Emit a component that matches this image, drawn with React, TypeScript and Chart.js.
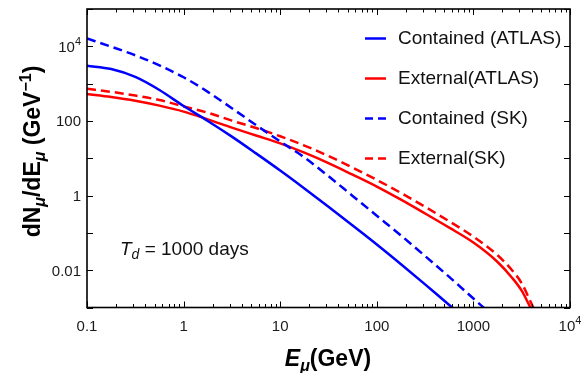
import React, { useEffect, useRef } from "react";
import { Chart, registerables } from "chart.js";

Chart.register(...registerables);

// ---------- data ----------
const containedAtlasE = [0.1, 0.178, 0.316, 0.562, 1, 1.78, 3.16, 5.62, 10, 17.8, 31.6, 56.2, 100, 178, 316, 562, 708];
const containedAtlasY = [3020, 2455, 1514, 676, 251, 100, 38.0, 13.5, 4.68, 1.55, 0.501, 0.158, 0.049, 0.0145, 0.00417, 0.00117, 0.00071];

const externalAtlasE = [0.1, 0.178, 0.316, 0.562, 1, 1.78, 3.16, 5.62, 10, 17.8, 31.6, 56.2, 100, 178, 316, 562, 1000, 1780, 2510, 3160, 3890, 4170];
const externalAtlasY = [525, 437, 347, 257, 178, 110, 66.1, 40.7, 25.1, 14.1, 7.41, 3.63, 1.74, 0.776, 0.331, 0.138, 0.055, 0.0166, 0.0063, 0.00282, 0.001, 0.00071];

const containedSkE = [0.1, 0.178, 0.316, 0.562, 1, 1.78, 3.16, 5.62, 10, 17.8, 31.6, 56.2, 100, 178, 316, 562, 1000, 1260, 1410];
const containedSkY = [16200, 9770, 5750, 3090, 1480, 603, 219, 77.6, 28.2, 10.5, 3.31, 0.977, 0.288, 0.0851, 0.024, 0.0066, 0.00174, 0.00102, 0.00076];

const externalSkE = [0.1, 0.178, 0.316, 0.562, 1, 1.78, 3.16, 5.62, 10, 17.8, 31.6, 56.2, 100, 178, 316, 562, 1000, 1780, 2510, 3160, 4170, 4470];
const externalSkY = [724, 603, 479, 363, 245, 166, 102, 64.6, 38.9, 21.9, 11.5, 5.62, 2.63, 1.17, 0.501, 0.204, 0.0794, 0.0251, 0.01, 0.00447, 0.001, 0.00071];

const seriesLabels = ["Contained (ATLAS)", "External(ATLAS)", "Contained (SK)", "External(SK)"];

const xTickValues = [0.1, 1, 10, 100, 1000, 10000];
const xTickLabels = ["0.1", "1", "10", "100", "1000", "10^4"];
const yTickValues = [0.01, 1, 100, 10000];
const yTickLabels = ["0.01", "1", "100", "10^4"];

const X_MIN = 0.1, X_MAX = 10000, Y_MIN = 0.001, Y_MAX = 100000;

const BLUE = "#0000ff";
const RED = "#ff0000";
const FONT = "'Liberation Sans', Arial, sans-serif";

function pts(xs: number[], ys: number[]) {
  return xs.map((x, i) => ({ x, y: ys[i] }));
}

function drawLabel(ctx: CanvasRenderingContext2D, label: string, x: number, y: number, align: "center" | "right", size: number) {
  const parts = label.split("^");
  ctx.font = `${size}px ${FONT}`;
  const wBase = ctx.measureText(parts[0]).width;
  let wSup = 0;
  const supSize = Math.round(size * 0.72);
  if (parts[1]) {
    ctx.font = `${supSize}px ${FONT}`;
    wSup = ctx.measureText(parts[1]).width;
  }
  const total = wBase + wSup;
  const x0 = align === "center" ? x - total / 2 : x - total;
  ctx.textAlign = "left";
  ctx.textBaseline = "alphabetic";
  ctx.font = `${size}px ${FONT}`;
  ctx.fillText(parts[0], x0, y);
  if (parts[1]) {
    ctx.font = `${supSize}px ${FONT}`;
    ctx.fillText(parts[1], x0 + wBase, y - size * 0.45);
  }
}

type Seg = { t: string; font: string; dy: number };

function drawSegs(ctx: CanvasRenderingContext2D, segs: Seg[], cx: number, y: number) {
  let total = 0;
  for (const s of segs) {
    ctx.font = s.font;
    total += ctx.measureText(s.t).width;
  }
  let x = cx - total / 2;
  ctx.textAlign = "left";
  ctx.textBaseline = "alphabetic";
  for (const s of segs) {
    ctx.font = s.font;
    ctx.fillText(s.t, x, y + s.dy);
    x += ctx.measureText(s.t).width;
  }
}

const overlay = {
  id: "overlay",
  afterDraw(chart: any) {
    const ctx: CanvasRenderingContext2D = chart.ctx;
    const { left, right, top, bottom } = chart.chartArea;
    const xs = chart.scales.x;
    const ys = chart.scales.y;
    ctx.save();
    ctx.fillStyle = "#000";
    ctx.strokeStyle = "#000";

    // ticks (inside, mirrored)
    ctx.lineWidth = 1;
    ctx.beginPath();
    for (let d = -1; d <= 4; d++) {
      for (let m = 1; m <= 9; m++) {
        const v = m * Math.pow(10, d);
        if (v > X_MAX * 1.0001) break;
        const px = Math.round(xs.getPixelForValue(v)) + 0.5;
        const len = m === 1 ? 6 : 3.5;
        ctx.moveTo(px, bottom);
        ctx.lineTo(px, bottom - len);
        ctx.moveTo(px, top);
        ctx.lineTo(px, top + len);
      }
    }
    for (let d = -3; d <= 5; d++) {
      const v = Math.pow(10, d);
      const py = Math.round(ys.getPixelForValue(v)) + 0.5;
      ctx.moveTo(left, py);
      ctx.lineTo(left + 6, py);
      ctx.moveTo(right, py);
      ctx.lineTo(right - 6, py);
    }
    ctx.stroke();

    // frame
    ctx.lineWidth = 1.6;
    ctx.strokeRect(left, top, right - left, bottom - top);

    // tick labels
    ctx.fillStyle = "#1a1a1a";
    xTickValues.forEach((v, i) => {
      const px = xs.getPixelForValue(v);
      drawLabel(ctx, xTickLabels[i], px, 331, "center", 15);
    });
    yTickValues.forEach((v, i) => {
      const py = ys.getPixelForValue(v);
      drawLabel(ctx, yTickLabels[i], 81, py + 5.5, "right", 15);
    });

    // axis titles
    ctx.fillStyle = "#000";
    drawSegs(
      ctx,
      [
        { t: "E", font: `italic bold 23px ${FONT}`, dy: 0 },
        { t: "μ", font: `italic bold 16px ${FONT}`, dy: 5 },
        { t: "(GeV)", font: `bold 23px ${FONT}`, dy: 0 },
      ],
      328,
      366
    );
    ctx.save();
    ctx.translate(40, 151.5);
    ctx.rotate(-Math.PI / 2);
    drawSegs(
      ctx,
      [
        { t: "dN", font: `bold 23px ${FONT}`, dy: 0 },
        { t: "μ", font: `italic bold 16px ${FONT}`, dy: 5 },
        { t: "/dE", font: `bold 23px ${FONT}`, dy: 0 },
        { t: "μ", font: `italic bold 16px ${FONT}`, dy: 5 },
        { t: " (GeV", font: `bold 23px ${FONT}`, dy: 0 },
        { t: "−1", font: `bold 16px ${FONT}`, dy: -9 },
        { t: ")", font: `bold 23px ${FONT}`, dy: 0 },
      ],
      0,
      0
    );
    ctx.restore();

    // annotation
    ctx.fillStyle = "#111";
    const ax = 120;
    const ay = 255;
    ctx.textAlign = "left";
    ctx.font = `italic 19px ${FONT}`;
    ctx.fillText("T", ax, ay);
    let w = ctx.measureText("T").width;
    ctx.font = `italic 14px ${FONT}`;
    ctx.fillText("d", ax + w, ay + 4);
    w += ctx.measureText("d").width;
    ctx.font = `19px ${FONT}`;
    ctx.fillText(" = 1000 days", ax + w, ay);

    // legend
    const colors = [BLUE, RED, BLUE, RED];
    const dashed = [false, false, true, true];
    seriesLabels.forEach((lab, i) => {
      const ly = 38.5 + i * 40;
      ctx.beginPath();
      ctx.strokeStyle = colors[i];
      ctx.lineWidth = 2.5;
      ctx.setLineDash(dashed[i] ? [8, 5] : []);
      ctx.moveTo(365, ly);
      ctx.lineTo(386, ly);
      ctx.stroke();
      ctx.setLineDash([]);
      ctx.fillStyle = "#111";
      ctx.font = `19px ${FONT}`;
      ctx.textBaseline = "middle";
      ctx.fillText(lab, 398, ly);
      ctx.textBaseline = "alphabetic";
    });

    ctx.restore();
  },
};

export default function App() {
  const ref = useRef<HTMLCanvasElement | null>(null);
  useEffect(() => {
    if (!ref.current) return;
    const common = {
      pointRadius: 0,
      borderWidth: 2.5,
      fill: false,
      cubicInterpolationMode: "monotone" as const,
      clip: 0,
    };
    const chart = new Chart(ref.current, {
      type: "line",
      data: {
        datasets: [
          { ...common, label: seriesLabels[0], data: pts(containedAtlasE, containedAtlasY), borderColor: BLUE },
          { ...common, label: seriesLabels[2], data: pts(containedSkE, containedSkY), borderColor: BLUE, borderDash: [9, 5] },
          { ...common, label: seriesLabels[1], data: pts(externalAtlasE, externalAtlasY), borderColor: RED },
          { ...common, label: seriesLabels[3], data: pts(externalSkE, externalSkY), borderColor: RED, borderDash: [9, 5] },
        ],
      },
      options: {
        animation: false,
        responsive: false,
        devicePixelRatio: 1,
        layout: { padding: { top: 9, right: 11, left: 0, bottom: 0 } },
        plugins: { legend: { display: false }, tooltip: { enabled: false } },
        scales: {
          x: {
            type: "logarithmic",
            min: X_MIN,
            max: X_MAX,
            grid: { display: false },
            border: { display: false },
            ticks: { display: false },
            afterFit: (s: any) => {
              s.height = 65.5;
            },
          },
          y: {
            type: "logarithmic",
            min: Y_MIN,
            max: Y_MAX,
            grid: { display: false },
            border: { display: false },
            ticks: { display: false },
            afterFit: (s: any) => {
              s.width = 87;
            },
          },
        },
      },
      plugins: [overlay],
    });
    return () => chart.destroy();
  }, []);
  return (
    <div style={{ position: "absolute", left: 0, top: 0, width: 581, height: 373, background: "#fff" }}>
      <canvas ref={ref} width={581} height={373} style={{ width: 581, height: 373 }} />
    </div>
  );
}
